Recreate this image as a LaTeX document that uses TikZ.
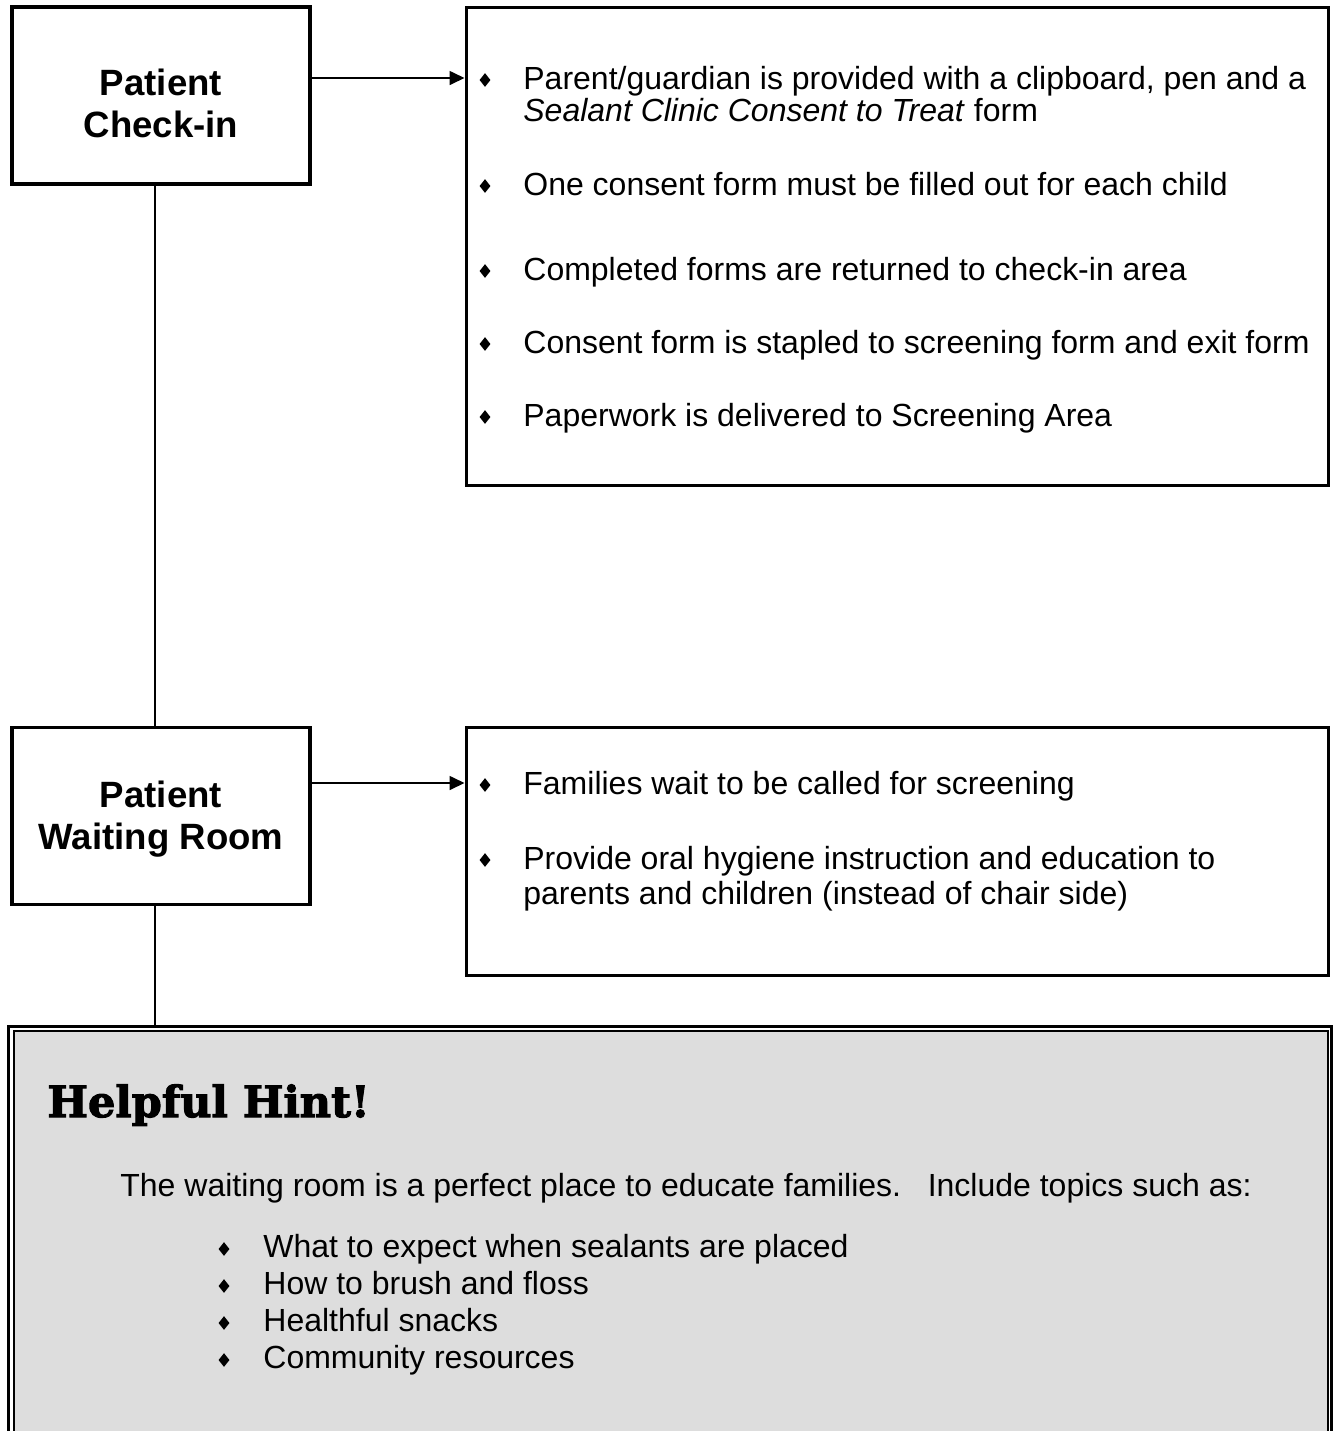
\documentclass[tikz,border=0pt]{standalone}
\usepackage{fontspec}
\setmainfont{Liberation Sans}
\newfontfamily\hintfont{DejaVu Serif}[BoldFeatures={FakeBold=2.5}]
\usetikzlibrary{arrows.meta,shapes.geometric}
\definecolor{hintgray}{HTML}{DDDDDD}

\begin{document}
\begin{tikzpicture}[
    x=0.5pt, y=-0.5pt,
    stepbox/.style={draw, line width=1.65pt, minimum width=149pt,
                    minimum height=88.5pt, inner sep=0pt},
    steptxt/.style={align=center, inner sep=0pt,
                    font=\fontsize{18.3}{21}\selectfont\bfseries},
    infobox/.style={draw, line width=1.5pt, inner sep=0pt},
    txt/.style={anchor=base west, inner sep=0pt,
                font=\fontsize{16}{19}\selectfont},
    bul/.style={diamond, fill=black, inner sep=0pt,
                minimum width=5.6pt, minimum height=7pt},
    arr/.style={-{Triangle[length=7.5pt,width=7pt]}, line width=0.85pt},
    link/.style={line width=0.85pt}
  ]
    \useasboundingbox (0,0) rectangle (1335,1431);

    % steps
    \node[stepbox] (checkin) at (161,95.5) {};
    \node[steptxt] (checkintxt) at (161,103) {Patient\\Check-in};
    \node[stepbox] (waiting) at (161,816) {};
    \node[steptxt] (waitingtxt) at (161,819) {Patient\\Waiting Room};

    % what happens at each step
    \node[infobox, minimum width=431pt, minimum height=239pt] (info1) at (897,246) {};
    \node[infobox, minimum width=431pt, minimum height=124pt] (info2) at (897,851) {};

    \node[bul] (b1) at (485,80)  {};
    \node[txt] (t1a) at (523,89.5)  {Parent/guardian is provided with a clipboard, pen and a};
    \node[txt] (t1b) at (523,121.5) {\textit{Sealant Clinic Consent to Treat} form};
    \node[bul] (b2) at (485,186) {};
    \node[txt] (t2) at (523,195.5) {One consent form must be filled out for each child};
    \node[bul] (b3) at (485,271) {};
    \node[txt] (t3) at (523,280.5) {Completed forms are returned to check-in area};
    \node[bul] (b4) at (485,344) {};
    \node[txt] (t4) at (523,353.5) {Consent form is stapled to screening form and exit form};
    \node[bul] (b5) at (485,417) {};
    \node[txt] (t5) at (523,426.5) {Paperwork is delivered to Screening Area};

    \node[bul] (b6) at (485,785) {};
    \node[txt] (t6) at (523,794.5) {Families wait to be called for screening};
    \node[bul] (b7) at (485,860) {};
    \node[txt] (t7a) at (523,869.5) {Provide oral hygiene instruction and education to};
    \node[txt] (t7b) at (523,904.5) {parents and children (instead of chair side)};

    % hint panel
    \node[draw, line width=1.65pt, fill=white, minimum width=661.6pt,
          minimum height=215pt, inner sep=0pt, anchor=north] (hint) at (670.1,1024.5) {};
    \node[draw, line width=1pt, fill=hintgray, minimum width=656.9pt,
          minimum height=212pt, inner sep=0pt, anchor=north] (hintin) at (670.85,1030) {};

    \node[txt, font=\hintfont\bfseries\fontsize{21.5}{25}\selectfont] (hinttitle) at (47,1117) {Helpful Hint!};
    \node[txt] (hintline) at (120,1196.5) {The waiting room is a perfect place to educate families.\ \ \ Include topics such as:};
    \node[bul] (h1) at (224,1249) {};
    \node[txt] (ht1) at (263,1257.5) {What to expect when sealants are placed};
    \node[bul] (h2) at (224,1286) {};
    \node[txt] (ht2) at (263,1294.5) {How to brush and floss};
    \node[bul] (h3) at (224,1323) {};
    \node[txt] (ht3) at (263,1331.5) {Healthful snacks};
    \node[bul] (h4) at (224,1360) {};
    \node[txt] (ht4) at (263,1368.5) {Community resources};

    % connectors
    \draw[link] ([xshift=-3pt]checkin.south) -- ([xshift=-3pt]waiting.north);
    \draw[link] ([xshift=-3pt]waiting.south) -- ([xshift=-3pt]waiting.south |- hint.north);
    \draw[arr] ([yshift=8.75pt]checkin.east) -- ([yshift=8.75pt]checkin.east -| info1.west);
    \draw[arr] ([yshift=16.5pt]waiting.east) -- ([yshift=16.5pt]waiting.east -| info2.west);
\end{tikzpicture}
\end{document}
